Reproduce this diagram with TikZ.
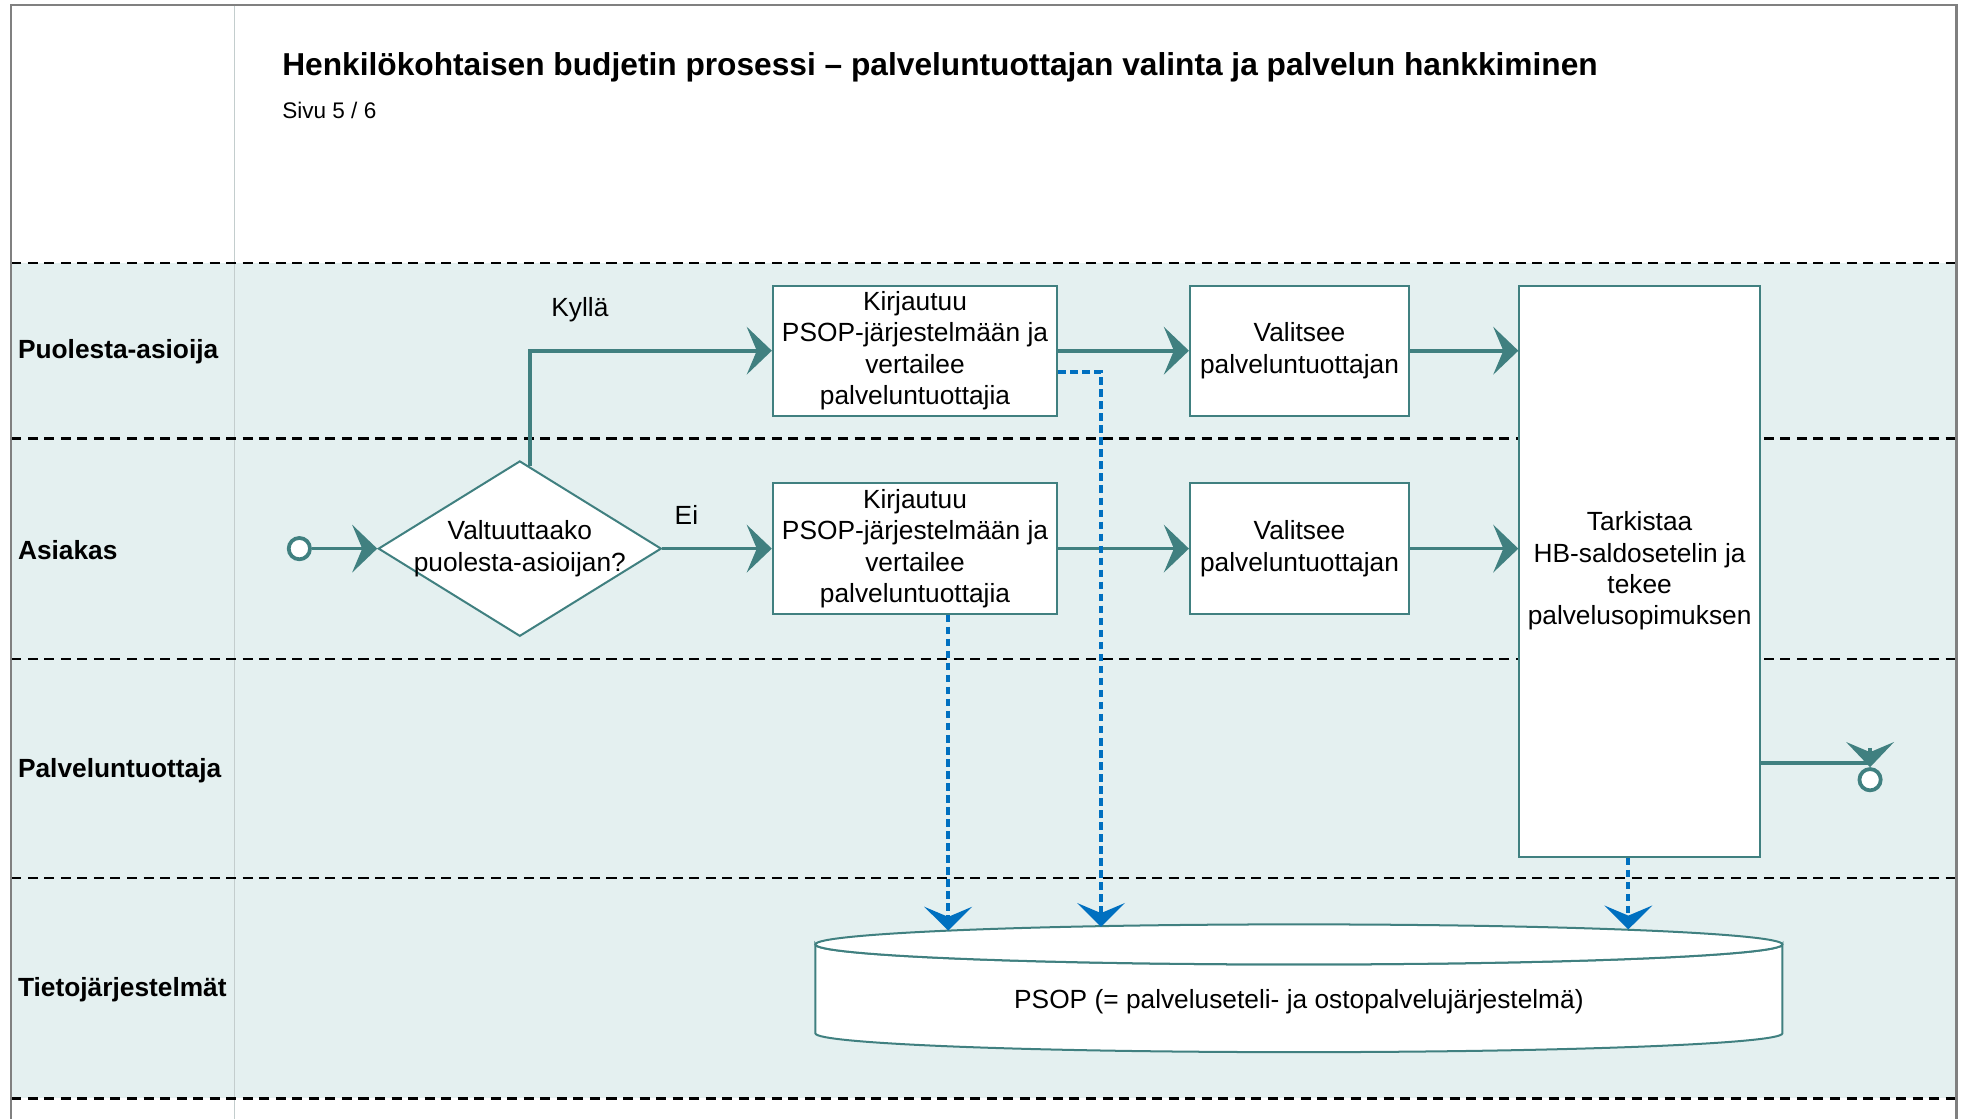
\documentclass[tikz,border=0pt]{standalone}
\usepackage{fontspec}
\setmainfont{Liberation Sans}
\usetikzlibrary{arrows.meta,shapes.geometric}

\definecolor{flowteal}{RGB}{64,128,128}
\definecolor{lanefill}{RGB}{228,240,240}
\definecolor{dataflow}{RGB}{0,112,192}
\definecolor{framegray}{RGB}{128,128,128}
\definecolor{sepgray}{RGB}{195,205,205}

\tikzset{
  procbox/.style={draw=flowteal, line width=0.8pt, fill=white, align=center, inner sep=0pt},
  flow/.style={draw=flowteal, line width=1.5pt, -{Stealth[length=10pt,width=19pt,inset=4pt]}},
  flowplain/.style={draw=flowteal, line width=1.5pt},
  dataline/.style={draw=dataflow, line width=1.6pt, dash pattern=on 3pt off 1.8pt,
    -{Stealth[length=9.5pt,width=19pt,inset=4pt]}},
  lanesep/.style={draw=black, line width=0.9pt, dash pattern=on 4pt off 2.6pt},
  lanelabel/.style={anchor=west, inner sep=0pt, font=\fontsize{10.5}{12.5}\selectfont\bfseries},
  event/.style={circle, draw=flowteal, line width=1.5pt, fill=white, minimum size=8.5pt, inner sep=0pt},
  edgelabel/.style={inner sep=0pt}
}

\begin{document}
\begin{tikzpicture}[x=0.5pt, y=-0.5pt, font=\fontsize{10.5}{12.5}\selectfont]
\useasboundingbox (0,0) rectangle (1568,893);
\fill[white] (0,0) rectangle (1568,893);

% swimlane background and separators
\fill[lanefill] (9,210) rectangle (1562,877);
\draw[sepgray, line width=0.5pt] (187,4) -- (187,893);
\foreach \yy in {210,350,526,701,877}
  \draw[lanesep] (9,\yy) -- (1562,\yy);
\draw[framegray, line width=0.9pt] (9,893) -- (9,4) -- (1562,4) -- (1562,893);

% heading
\node[anchor=west, inner sep=0pt, font=\fontsize{12.65}{15}\selectfont\bfseries] (title) at (225,54)
  {Henkilökohtaisen budjetin prosessi – palveluntuottajan valinta ja palvelun hankkiminen};
\node[anchor=west, inner sep=0pt, font=\fontsize{9}{11}\selectfont] (page) at (225,88) {Sivu 5 / 6};

% lane titles
\node[lanelabel] (laneA) at (14,281) {Puolesta-asioija};
\node[lanelabel] (laneB) at (14,439) {Asiakas};
\node[lanelabel] (laneC) at (14,615) {Palveluntuottaja};
\node[lanelabel] (laneD) at (14,790) {Tietojärjestelmät};

% database cylinder
\filldraw[draw=flowteal, line width=0.8pt, fill=white]
  (651,754) -- (651,825) arc[start angle=180, end angle=360, x radius=193pt, y radius=7.5pt]
  -- (1423,754) arc[start angle=0, end angle=-180, x radius=193pt, y radius=8pt] -- cycle;
\draw[flowteal, line width=0.8pt, fill=white] (1037,754) ellipse [x radius=193pt, y radius=8pt];
\node (psop) at (1037,800) {PSOP (= palveluseteli- ja ostopalvelujärjestelmä)};
\coordinate (dbA) at (879,740);
\coordinate (dbB) at (757,743);
\coordinate (dbC) at (1300,742);

% process steps
\node[event] (start) at (239,438) {};
\node[diamond, draw=flowteal, line width=0.8pt, fill=white, minimum width=113pt,
      minimum height=70pt, inner sep=0pt] (dec) at (415,438) {};
\node[align=center] (dectext) at (415,438) {Valtuuttaako\\puolesta-asioijan?};

\node[procbox, minimum width=113.5pt, minimum height=52pt] (A1) at (730.5,280)
  {Kirjautuu\\PSOP-järjestelmään ja\\vertailee\\palveluntuottajia};
\node[procbox, minimum width=113.5pt, minimum height=52pt] (B1) at (730.5,438)
  {Kirjautuu\\PSOP-järjestelmään ja\\vertailee\\palveluntuottajia};
\node[procbox, minimum width=87.5pt, minimum height=52pt] (A2) at (1037.5,280)
  {Valitsee\\palveluntuottajan};
\node[procbox, minimum width=87.5pt, minimum height=52pt] (B2) at (1037.5,438)
  {Valitsee\\palveluntuottajan};
\node[procbox, minimum width=96pt, minimum height=228pt] (big) at (1309,456) {};
\node[align=center] (bigtext) at (1309,456)
  {Tarkistaa\\HB-saldosetelin ja\\tekee\\palvelusopimuksen};
\node[event] (endc) at (1493,622.5) {};
\coordinate (endturn) at (1493,609);

% sequence flows
\draw[flow] (start) -- (dec.west);
\draw[flow] ([xshift=4pt,yshift=-2.5pt]dec.north) |- (A1.west);
\draw[flow] (dec.east) -- (B1.west);
\node[edgelabel] (yes) at (463,247) {Kyllä};
\node[edgelabel] (no) at (548,411) {Ei};
\draw[flow] (A1.east) -- (A2.west);
\draw[flow] (B1.east) -- (B2.west);
\draw[flow] (A2.east) -- (big.west |- A2.east);
\draw[flow] (B2.east) -- (big.west |- B2.east);
\draw[flowplain] (big.east |- endturn) -- (endturn);
\draw[flow] ([yshift=6pt]endturn) -- (endc.north);

% data associations
\draw[dataline] ([yshift=-8.5pt]A1.east) -| (dbA);
\draw[dataline] (B1.south -| dbB) -- (dbB);
\draw[dataline] (big.south -| dbC) -- (dbC);
\end{tikzpicture}
\end{document}
